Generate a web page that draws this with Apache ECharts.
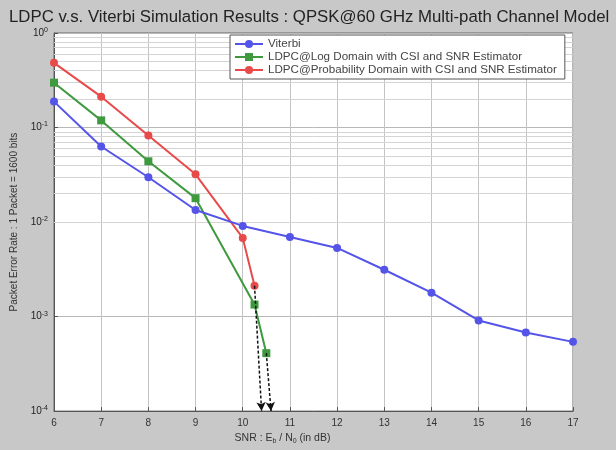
<!DOCTYPE html>
<html>
<head>
<meta charset="utf-8">
<script src="https://cdn.jsdelivr.net/npm/echarts@6/dist/echarts.min.js"></script>
<style>
  html, body { margin: 0; padding: 0; background: #c8c8c8; }
  #container { width: 616px; height: 450px; }
</style>
</head>
<body>
<div id="container"></div>
<script>
var dom = document.getElementById("container");
var myChart = echarts.init(dom);
var option = null;

// SNR (dB) and packet error rate
var snrViterbi = [6, 7, 8, 9, 10, 11, 12, 13, 14, 15, 16, 17];
var perViterbi = [0.188, 0.063, 0.0298, 0.0134, 0.0091, 0.00695, 0.00532, 0.00313, 0.00179, 0.00091, 0.00068, 0.00054];

var snrLog = [6, 7, 8, 9, 10.25, 10.5];
var perLog = [0.298, 0.119, 0.0439, 0.0179, 0.00134, 0.00041];

var snrProb = [6, 7, 8, 9, 10, 10.25];
var perProb = [0.483, 0.212, 0.0824, 0.032, 0.0068, 0.00212];

// dashed extrapolation arrows down to the floor
var arrowFrom = [[10.25, 0.00212], [10.5, 0.00041]];
var arrowTo = [[10.4, 0.0001], [10.6, 0.0001]];

var xTicks = [6, 17];
var yTicks = [0.0001, 1];

var names = ['Viterbi', 'LDPC@Log Domain with CSI and SNR Estimator', 'LDPC@Probability Domain with CSI and SNR Estimator'];

function pairs(xs, ys) {
    var out = [];
    for (var i = 0; i < xs.length; i++) out.push([xs[i], ys[i]]);
    return out;
}

// minor log grid lines (2..9 x 10^k)
var minorLines = [];
for (var k = -4; k < 0; k++) {
    for (var m = 2; m <= 9; m++) {
        minorLines.push({ yAxis: m * Math.pow(10, k) });
    }
}

var arrowLines = [];
for (var a = 0; a < arrowFrom.length; a++) {
    arrowLines.push([{ coord: arrowFrom[a] }, { coord: arrowTo[a] }]);
}

var supRich = { sup: { fontSize: 7, verticalAlign: 'top', padding: [0, 0, 6, 0], color: '#222' } };

option = {
    backgroundColor: '#c8c8c8',
    animation: false,
    textStyle: { fontFamily: 'Liberation Sans, Arial, sans-serif' },
    title: {
        text: 'LDPC v.s. Viterbi Simulation Results : QPSK@60 GHz Multi-path Channel Model',
        left: 4,
        top: 4,
        textStyle: { fontSize: 16.8, fontWeight: 'normal', color: '#222' }
    },
    legend: {
        orient: 'vertical',
        left: 230,
        top: 35,
        padding: [3, 8, 3, 4],
        itemGap: 1,
        itemWidth: 28,
        itemHeight: 10,
        backgroundColor: '#fff',
        borderColor: '#555',
        borderWidth: 1,
        borderRadius: 0,
        data: names,
        textStyle: { fontSize: 11.6, color: '#444' }
    },
    grid: { left: 54, right: 43, top: 33, bottom: 37, show: true, backgroundColor: '#fff', borderColor: '#666', borderWidth: 1 },
    xAxis: {
        type: 'value',
        min: xTicks[0],
        max: xTicks[1],
        interval: 1,
        name: 'SNR : E{sub|b} / N{sub|0} (in dB)',
        nameLocation: 'middle',
        nameGap: 20,
        nameTextStyle: {
            fontSize: 10.5, color: '#333', padding: [0, 62, 0, 0],
            rich: { sub: { fontSize: 7, verticalAlign: 'bottom', padding: [6, 0, 0, 0], color: '#333' } }
        },
        axisLine: { lineStyle: { color: '#555' } },
        axisTick: { inside: true, length: 4, lineStyle: { color: '#555' } },
        axisLabel: { fontSize: 10, color: '#333', margin: 7 },
        splitLine: { show: true, lineStyle: { color: '#c4c4c4', width: 1 } }
    },
    yAxis: {
        type: 'log',
        logBase: 10,
        min: yTicks[0],
        max: yTicks[1],
        name: 'Packet Error Rate : 1 Packet = 1600 bits',
        nameLocation: 'middle',
        nameGap: 35,
        nameTextStyle: { fontSize: 10, color: '#333' },
        axisLine: { show: true, lineStyle: { color: '#555' } },
        axisTick: { inside: true, length: 4, lineStyle: { color: '#555' } },
        axisLabel: {
            fontSize: 10, color: '#222', margin: 6,
            formatter: function (v) {
                var e = Math.round(Math.log(v) / Math.LN10);
                return '10{sup|' + e + '}';
            },
            rich: supRich
        },
        splitLine: { show: true, lineStyle: { color: '#b8b8b8', width: 1 } }
    },
    series: [
        {
            name: names[0],
            type: 'line',
            data: pairs(snrViterbi, perViterbi),
            symbol: 'circle',
            symbolSize: 8,
            itemStyle: { color: '#5454e8' },
            lineStyle: { color: '#5454e8', width: 2 },
            z: 5,
            markLine: {
                silent: true,
                symbol: 'none',
                label: { show: false },
                lineStyle: { color: '#d4d4d4', type: 'solid', width: 1 },
                data: minorLines,
                z: 1
            }
        },
        {
            name: names[1],
            type: 'line',
            data: pairs(snrLog, perLog),
            symbol: 'rect',
            symbolSize: 8,
            itemStyle: { color: '#3f9a3f' },
            lineStyle: { color: '#3f9a3f', width: 2 },
            z: 4
        },
        {
            name: names[2],
            type: 'line',
            data: pairs(snrProb, perProb),
            symbol: 'circle',
            symbolSize: 8,
            itemStyle: { color: '#e84a4a' },
            lineStyle: { color: '#e84a4a', width: 2 },
            z: 3,
            markLine: {
                silent: true,
                symbol: ['none', 'arrow'],
                symbolSize: [7, 9],
                label: { show: false },
                lineStyle: { color: '#111', type: [3, 2], width: 1.5 },
                data: arrowLines,
                z: 6
            }
        }
    ]
};

if (option && typeof option === "object") {
    myChart.setOption(option, false);
}
</script>
</body>
</html>
